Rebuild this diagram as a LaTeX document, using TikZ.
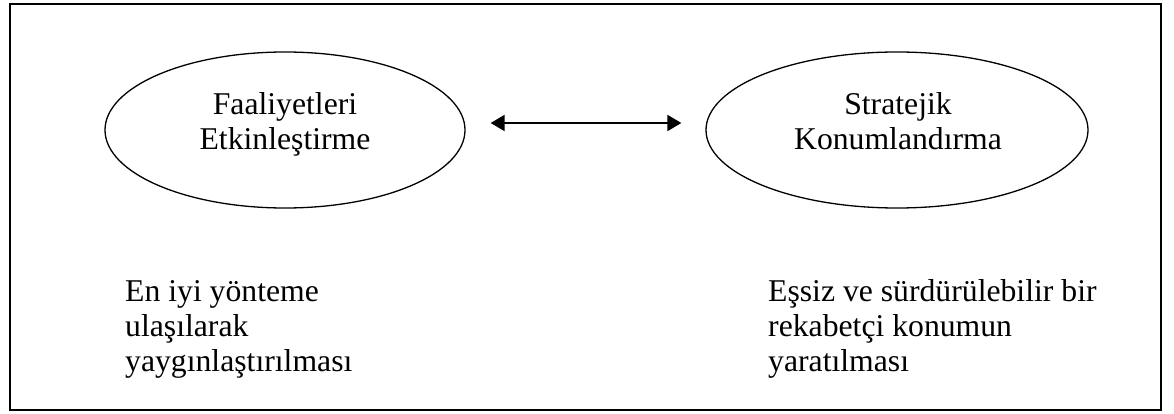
\documentclass[tikz,border=0pt]{standalone}
\usepackage{fontspec}
\setmainfont{Liberation Serif}
\usetikzlibrary{arrows.meta,shapes.geometric}
\tikzset{
  frame/.style={draw, line width=2pt},
  oval/.style={draw, line width=1.3pt, ellipse, inner sep=0pt,
               minimum width=#1, minimum height=156pt},
  words/.style={inner sep=0pt, font=\fontsize{31.7}{35}\selectfont},
  link/.style={line width=2pt,
               {Triangle[length=14pt,width=16pt]}-{Triangle[length=14pt,width=16pt]}}
}
\begin{document}
\begin{tikzpicture}[x=1pt,y=-1pt]
  \useasboundingbox (0,0) rectangle (1174,414);
  % outer frame
  \draw[frame] (10,4) rectangle (1161,410);

  % the two activities
  \node[oval=360pt] (fa) at (285,130) {};
  \node[oval=382pt] (sk) at (897,130) {};
  \node[words, anchor=base] (fatxt) at (285,115)
    {\begin{tabular}[t]{@{}c@{}}Faaliyetleri\\Etkinleştirme\end{tabular}};
  \node[words, anchor=base] (sktxt) at (898,115)
    {\begin{tabular}[t]{@{}c@{}}Stratejik\\Konumlandırma\end{tabular}};

  % two-way link between them
  \coordinate (la) at ([xshift=25pt,yshift=7pt]fa.east);
  \coordinate (lb) at ([xshift=-24pt,yshift=7pt]sk.west);
  \draw[link] (la) -- (lb);

  % explanations below
  \node[words, anchor=base west] (fanote) at (125,301)
    {\begin{tabular}[t]{@{}l@{}}En iyi yönteme\\ulaşılarak\\yaygınlaştırılması\end{tabular}};
  \node[words, anchor=base west] (sknote) at (768,301)
    {\begin{tabular}[t]{@{}l@{}}Eşsiz ve sürdürülebilir bir\\rekabetçi konumun\\yaratılması\end{tabular}};
\end{tikzpicture}
\end{document}
